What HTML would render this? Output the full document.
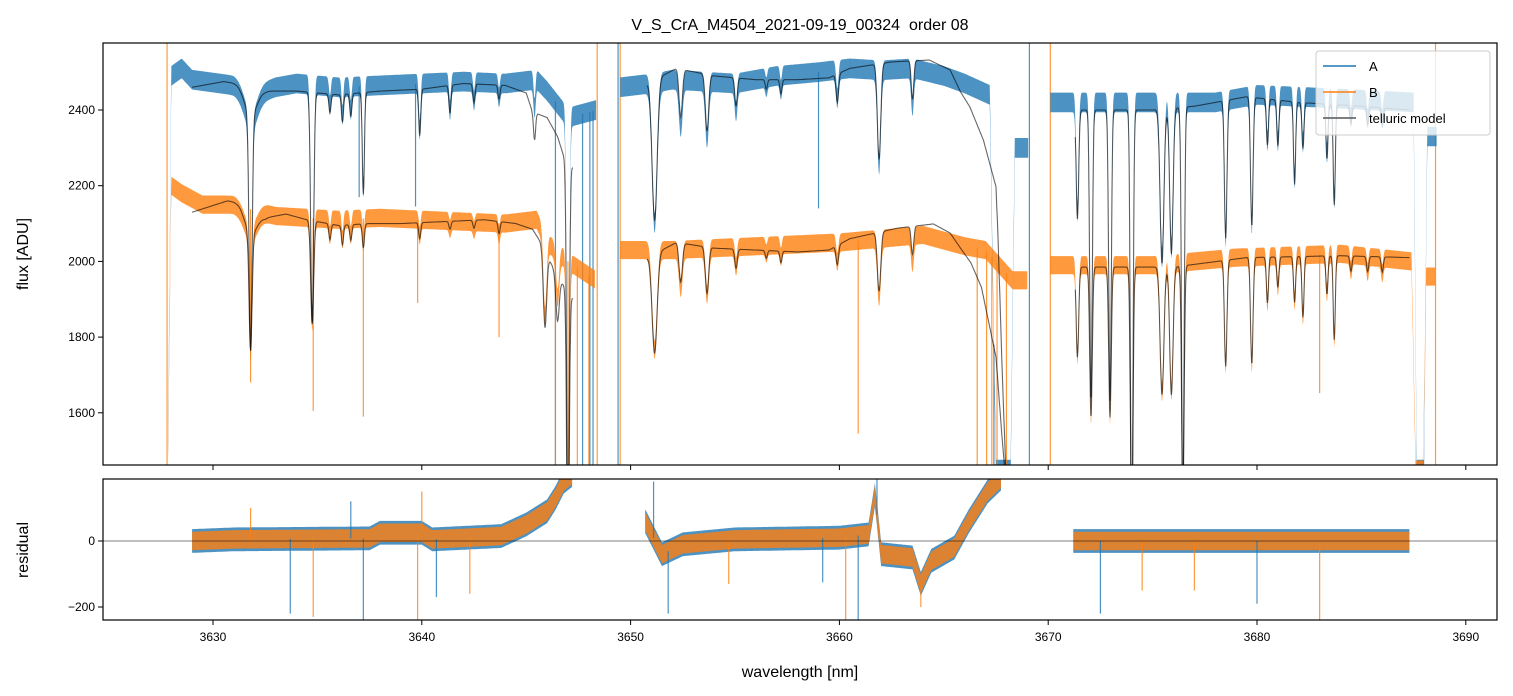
<!DOCTYPE html>
<html><head><meta charset="utf-8"><style>
html,body{margin:0;padding:0;background:#fff;}
svg{display:block;font-family:"Liberation Sans","DejaVu Sans",sans-serif;}
</style></head><body>
<svg id="chart" width="1513" height="696" viewBox="0 0 1513 696" xmlns="http://www.w3.org/2000/svg">
<defs>
<clipPath id="clipTop"><rect x="103" y="43" width="1394" height="422"/></clipPath>
<clipPath id="clipBot"><rect x="103" y="479" width="1394" height="141"/></clipPath>
</defs>
<text x="800" y="30" text-anchor="middle" font-size="16" fill="#000" style="white-space:pre">V_S_CrA_M4504_2021-09-19_00324  order 08</text>
<g id="topG" clip-path="url(#clipTop)"></g>
<g id="botG" clip-path="url(#clipBot)"></g>
<g id="axesG"></g>
<text x="28" y="254" text-anchor="middle" font-size="16" transform="rotate(-90 28 254)">flux [ADU]</text>
<text x="28" y="550" text-anchor="middle" font-size="16" transform="rotate(-90 28 550)">residual</text>
<text x="800" y="677" text-anchor="middle" font-size="16">wavelength [nm]</text>
<g id="legendG">
<rect x="1316" y="51" width="174" height="84" rx="3" fill="#fff" fill-opacity="0.8" stroke="#ccc"/>
<line x1="1323" y1="66" x2="1356" y2="66" stroke="#1f77b4" stroke-width="1.5"/>
<text x="1369" y="71" font-size="13">A</text>
<line x1="1323" y1="92" x2="1356" y2="92" stroke="#ff7f0e" stroke-width="1.5"/>
<text x="1369" y="97" font-size="13">B</text>
<line x1="1323" y1="118" x2="1356" y2="118" stroke="#555" stroke-width="1.5"/>
<text x="1369" y="123" font-size="13">telluric model</text>
</g>
</svg>
<script>
const lineC  = [3631.8,3631.8,3634.75,3635.6,3636.2,3636.6,3637.2,3639.9,3641.35,3642.5,3643.7,3645.4,3645.9,3646.5,3647.0,3651.15,3652.4,3653.66,3655.05,3656.5,3657.2,3659.9,3661.9,3663.5,3671.4,3672.05,3672.96,3674.0,3675.45,3675.9,3676.45,3678.5,3679.75,3680.5,3681.0,3681.8,3682.2,3683.35,3683.7,3684.5,3685.3,3686.0];
const lineDA = [0.26,0.03,0.25,0.02,0.03,0.025,0.11,0.05,0.03,0.02,0.015,0.03,0.0,0.0,0.45,0.15,0.05,0.06,0.03,0.01,0.015,0.03,0.1,0.04,0.12,0.32,0.32,0.5,0.17,0.16,0.45,0.15,0.14,0.05,0.05,0.09,0.05,0.06,0.11,0.02,0.02,0.02];
const lineDB = [0.15,0.03,0.13,0.02,0.025,0.02,0.03,0.02,0.01,0.01,0.015,0.0,0.1,0.06,0.4,0.13,0.05,0.06,0.025,0.01,0.015,0.025,0.075,0.035,0.12,0.2,0.2,0.35,0.17,0.17,0.3,0.14,0.14,0.06,0.04,0.06,0.08,0.05,0.11,0.02,0.02,0.02];
const lineS  = [0.07,0.3,0.07,0.05,0.05,0.05,0.05,0.05,0.05,0.05,0.05,0.05,0.08,0.08,0.06,0.12,0.08,0.08,0.06,0.05,0.05,0.06,0.08,0.06,0.06,0.06,0.06,0.06,0.09,0.08,0.06,0.06,0.06,0.05,0.05,0.05,0.05,0.05,0.05,0.05,0.05,0.05];

const modelSegStart = [3629.0,3650.8,3671.3];
const modelSegEnd   = [3647.25,3668.0,3687.3];
const modelContAW = [3629,3630.5,3631.2,3632.5,3634,3636,3638,3640,3642,3644,3645,3645.3,3646,3646.5,3646.9,3647.25, 3650.8,3652.2,3654,3656,3658,3659.5,3660.5,3662.5,3664.3,3665.3,3665.8,3666.25,3666.9,3667.5,3667.6,3667.8,3668.0, 3671.3,3675,3677,3679.5,3682,3685,3687.3];
const modelContAV = [2460,2475,2470,2450,2450,2440,2450,2455,2470,2465,2445,2395,2380,2330,2260,2247, 2470,2510,2490,2480,2480,2485,2510,2527,2532,2506,2448,2408,2320,2197,2057,1705,1400, 2400,2400,2410,2435,2420,2410,2400];
const modelContBW = [3629,3630.7,3631.3,3632.5,3633.5,3634.5,3636,3637.5,3639,3641,3643,3644.5,3645.3,3645.7,3646.5,3647.25, 3650.8,3652.2,3654,3656,3658,3659.5,3660.5,3662.8,3664.5,3665.3,3665.8,3666.3,3666.8,3667.1,3667.5,3667.8,3668.0, 3671.3,3676,3679.5,3684,3687.3];
const modelContBV = [2130,2160,2155,2115,2125,2110,2095,2100,2100,2105,2110,2100,2085,2050,1960,1900, 2010,2050,2035,2030,2025,2030,2060,2088,2099,2075,2035,1996,1932,1853,1747,1528,1400, 1985,1985,2010,2015,2010];

const obsSegStart = [3627.85,3649.5,3670.1];
const obsSegEnd   = [3648.35,3669.05,3688.6];
const obsContAW = [3627.85,3628.0,3628.5,3629,3631,3632,3633,3634,3636,3638,3640,3642,3644,3645.5,3646.0,3647,3648.35, 3649.5,3651,3652,3655,3657,3659,3660.5,3662,3663.5,3665,3666,3667.2,3667.5,3668.2,3668.4,3669.05, 3670.1,3678,3680,3684,3687.5,3687.65,3688.0,3688.15,3688.6];
const obsContAV = [1500,2490,2510,2480,2465,2440,2460,2470,2460,2465,2470,2475,2470,2480,2450,2380,2400, 2460,2470,2480,2470,2490,2500,2510,2505,2510,2490,2470,2440,1450,1450,2300,2300, 2420,2420,2440,2430,2420,1450,1450,2330,2330];
const obsContBW = [3627.85,3628.0,3628.5,3629.5,3631,3633,3636,3638,3640,3642,3644,3645.5,3646,3647,3648.35, 3649.5,3652,3656,3660,3662,3664,3666,3667,3668.3,3669.05, 3670.1,3675,3679,3684,3687.4,3687.6,3687.95,3688.1,3688.6];
const obsContBV = [1500,2200,2180,2150,2150,2120,2110,2115,2110,2105,2100,2110,2050,2000,1950, 2030,2030,2040,2050,2060,2070,2040,2030,1950,1950, 1990,1990,2010,2020,2000,1450,1450,1960,1960];
const noiseA = 26, noiseB = 24;

const dropsAW = [3646.4,3647.7,3648.05,3648.2,3667.4,3667.7];
const dropsBW = [3646.4,3647.0,3647.45,3648.0,3666.6,3667.05,3667.3,3667.55,3668.0];
const spikesBW = [3631.8,3634.8,3637.2,3639.8,3643.7,3660.9,3683.0];
const spikesBV = [1680,1605,1590,1890,1800,1545,1652];
const spikesAW = [3639.7,3637.0,3659.0];
const spikesAV = [2145,2170,2140];
const edgeLinesBW = [3627.8,3648.4,3649.5,3670.1,3688.55];
const edgeLinesAW = [3649.4,3669.1];

const residSegStart = [3629.0,3650.7,3671.2];
const residSegEnd   = [3647.2,3667.75,3687.3];
const residW = [3629,3631,3637.5,3638,3640,3640.5,3643.8,3645,3646,3646.4,3646.8,3647.2, 3650.7,3651.5,3652.5,3655,3660,3661.4,3661.7,3662,3663.5,3663.9,3664.4,3665.5,3666.2,3667.1,3667.75, 3671.2,3687.3];
const residV = [0,5,8,25,25,5,15,50,90,130,180,200, 60,-40,-10,5,10,20,140,-40,-50,-130,-60,-20,60,150,190, 0,0];
const residSpikeW = [3633.7,3634.8,3637.2,3639.8,3640.7,3642.3,3651.8,3654.7,3659.2,3660.3,3660.9,3663.9,3651.1,3640.0,3636.6,3631.8,3672.5,3683.0,3680.0,3677.0,3661.8,3674.5];
const residSpikeV = [-220,-230,-240,-240,-170,-160,-220,-130,-125,-240,-240,-200,180,150,120,100,-220,-240,-190,-150,190,-150];
const residNoiseA = 36, residNoiseB = 28;

const xTicks = [3630,3640,3650,3660,3670,3680,3690];
const yTicksTop = [1600,1800,2000,2200,2400];
const yTicksBot = [-200,0];

const X0=103,X1=1497;
const xS = w => 213 + (w-3630)*20.88;
const yT = f => 110 + (2400-f)*0.3785;
const yB = r => 541 - r*0.33;

const NS='http://www.w3.org/2000/svg';
function el(tag, attrs, parent){const e=document.createElementNS(NS,tag);for(const k in attrs)e.setAttribute(k,attrs[k]);parent.appendChild(e);return e;}
function interp(W,V,w){if(w<=W[0])return V[0];for(let i=1;i<W.length;i++){if(w<=W[i]){const t=(w-W[i-1])/(W[i]-W[i-1]);return V[i-1]+t*(V[i]-V[i-1]);}}return V[V.length-1];}
function trans(w,D){let t=1;for(let i=0;i<lineC.length;i++){const z=(w-lineC[i])/lineS[i];if(Math.abs(z)<6)t*=1-D[i]*Math.exp(-0.5*z*z);}return t;}

const topGrp=document.getElementById('topG'), botGrp=document.getElementById('botG'), axesGrp=document.getElementById('axesG');
const STEP=0.02;

function band(W,V,D,noise,s0,s1,color,name){
  const up=[],dn=[];
  for(let w=s0;w<=s1+1e-9;w+=STEP){const f=interp(W,V,w)*trans(w,D);up.push(xS(w).toFixed(1)+','+yT(f+noise).toFixed(1));dn.push(xS(w).toFixed(1)+','+yT(f-noise).toFixed(1));}
  const p=el('polygon',{points:up.concat(dn.reverse()).join(' '),fill:color,'fill-opacity':0.8},topGrp);
  
  
}
function model(W,V,D,s0,s1,name){
  const pts=[];
  for(let w=s0;w<=s1+1e-9;w+=STEP){pts.push(xS(w).toFixed(1)+','+yT(interp(W,V,w)*trans(w,D)).toFixed(1));}
  const p=el('polyline',{points:pts.join(' '),fill:'none',stroke:'#000','stroke-opacity':0.6,'stroke-width':1.1},topGrp);
  
  
}
function vline(w,f0,f1,color,name){
  const l=el('line',{x1:xS(w),x2:xS(w),y1:yT(f0),y2:yT(f1),stroke:color,'stroke-opacity':0.8,'stroke-width':1.2},topGrp);
  
  
}

edgeLinesBW.forEach(w=>vline(w,1400,2600,'#ff7f0e','edge-line-b'));
edgeLinesAW.forEach(w=>vline(w,1400,2600,'#1f77b4','edge-line-a'));
for(let i=0;i<obsSegStart.length;i++) band(obsContAW,obsContAV,lineDA,noiseA,obsSegStart[i],obsSegEnd[i],'#1f77b4','spectrum-a-segment');
dropsAW.forEach(w=>vline(w,1400,interp(obsContAW,obsContAV,w),'#1f77b4','spectrum-a-drop'));
spikesAW.forEach((w,i)=>vline(w,spikesAV[i],interp(obsContAW,obsContAV,w),'#1f77b4','spectrum-a-spike'));
for(let i=0;i<obsSegStart.length;i++) band(obsContBW,obsContBV,lineDB,noiseB,obsSegStart[i],obsSegEnd[i]-0.05,'#ff7f0e','spectrum-b-segment');
dropsBW.forEach(w=>vline(w,1400,interp(obsContBW,obsContBV,w),'#ff7f0e','spectrum-b-drop'));
spikesBW.forEach((w,i)=>vline(w,spikesBV[i],interp(obsContBW,obsContBV,w),'#ff7f0e','spectrum-b-spike'));
for(let i=0;i<modelSegStart.length;i++){model(modelContAW,modelContAV,lineDA,modelSegStart[i],modelSegEnd[i],'telluric-model-a');model(modelContBW,modelContBV,lineDB,modelSegStart[i],modelSegEnd[i],'telluric-model-b');}

function rband(noise,color,name){
  for(let i=0;i<residSegStart.length;i++){
    const up=[],dn=[];
    for(let w=residSegStart[i];w<=residSegEnd[i]+1e-9;w+=STEP){const r=interp(residW,residV,w);up.push(xS(w).toFixed(1)+','+yB(r+noise).toFixed(1));dn.push(xS(w).toFixed(1)+','+yB(r-noise).toFixed(1));}
    const p=el('polygon',{points:up.concat(dn.reverse()).join(' '),fill:color,'fill-opacity':0.8},botGrp);
    
    
  }
}
rband(residNoiseA,'#1f77b4','residual-a');
rband(residNoiseB,'#ff7f0e','residual-b');
residSpikeW.forEach((w,i)=>{
  const col = i%2===0 ? '#1f77b4' : '#ff7f0e';
  const l=el('line',{x1:xS(w),x2:xS(w),y1:yB(interp(residW,residV,w)),y2:yB(residSpikeV[i]),stroke:col,'stroke-opacity':0.8,'stroke-width':1.2},botGrp);
  
  
});
const zl=el('line',{x1:X0,x2:X1,y1:yB(0),y2:yB(0),stroke:'#000','stroke-opacity':0.5,'stroke-width':1},botGrp);



[[43,465,'flux-axes-frame'],[479,620,'residual-axes-frame']].forEach(a=>{
  const r=el('rect',{x:X0,y:a[0],width:X1-X0,height:a[1]-a[0],fill:'none',stroke:'#000','stroke-width':1.2},axesGrp);
  
  
});
xTicks.forEach(t=>{
  [465,620].forEach(y=>{const l=el('line',{x1:xS(t),x2:xS(t),y1:y,y2:y+5,stroke:'#000'},axesGrp);
    
    });
  const tx=el('text',{x:xS(t),y:641,'text-anchor':'middle','font-size':12},axesGrp);
  tx.textContent=t;
  
  
});
yTicksTop.forEach(t=>{
  const l=el('line',{x1:X0-5,x2:X0,y1:yT(t),y2:yT(t),stroke:'#000'},axesGrp);
  
  
  const tx=el('text',{x:X0-8,y:yT(t)+4,'text-anchor':'end','font-size':12},axesGrp);
  tx.textContent=t;
  
  
});
yTicksBot.forEach(t=>{
  const l=el('line',{x1:X0-5,x2:X0,y1:yB(t),y2:yB(t),stroke:'#000'},axesGrp);
  
  
  const tx=el('text',{x:X0-8,y:yB(t)+4,'text-anchor':'end','font-size':12},axesGrp);
  tx.textContent=t===0?'0':'\u2212'+Math.abs(t);
  
  
});
const svgRoot=document.getElementById('chart');
svgRoot.appendChild(document.getElementById('legendG'));
</script>
</body></html>
